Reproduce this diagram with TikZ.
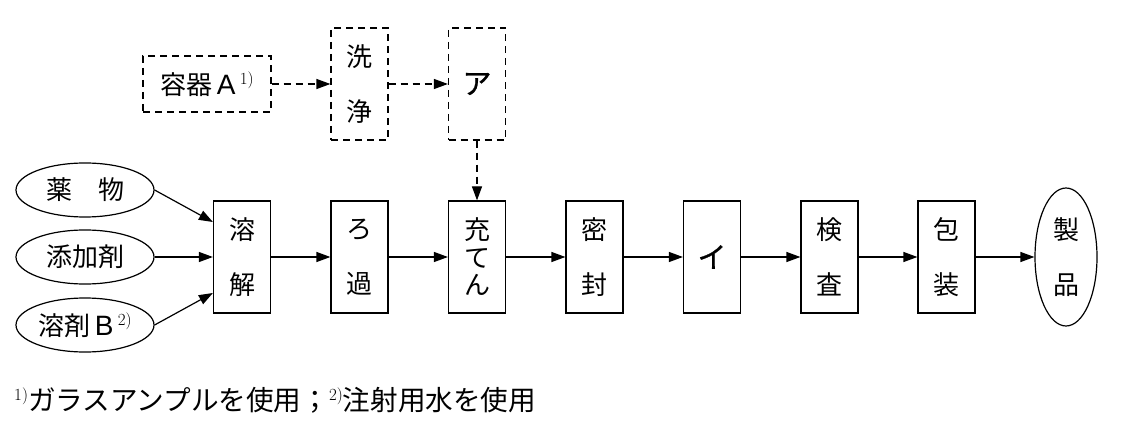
\documentclass[tikz,border=0pt]{standalone}
\usepackage{fontspec}
\newfontfamily\cjk{Noto Sans CJK JP}
\newfontfamily\cjkm[FakeBold=0.8]{Noto Sans CJK JP}
\newfontfamily\lsans{Liberation Sans}
\usetikzlibrary{arrows.meta,shapes.geometric,calc}
\newcommand\supn[1]{\raisebox{10pt}{\normalfont\fontsize{17}{17}\selectfont #1}}
\newcommand\latn[1]{{\lsans\fontsize{28}{30}\selectfont #1}}
\tikzset{
  every node/.style={inner sep=0pt},
  stepbox/.style={draw, line width=1.2pt, minimum width=57pt, minimum height=112pt,
    align=center, font=\cjk\fontsize{26}{55}\selectfont},
  dbox/.style={stepbox, dash pattern=on 7pt off 5pt},
  oval/.style={draw, ellipse, line width=1.2pt, minimum width=138pt, minimum height=54pt,
    font=\cjk\fontsize{26}{30}\selectfont},
  arr/.style={line width=1.2pt, -{Triangle[length=14pt,width=10pt]}},
  darr/.style={arr, dash pattern=on 7pt off 5pt},
  kana/.style={font=\cjkm\fontsize{29}{30}\selectfont},
}
\begin{document}
\begin{tikzpicture}[x=1pt,y=-1pt]
\useasboundingbox (0,0) rectangle (1126,430);
% upper dashed row
\node[dbox, minimum width=128pt, minimum height=56pt] (yoki) at (207,84) {容器\,\latn{A}\,\supn{1)}};
\node[dbox] (sen) at (359.5,84) {洗\\浄};
\node[dbox, kana] (a) at (477,84) {ア};
% main row
\node[stepbox] (yokai) at (242,257) {溶\\解};
\node[stepbox] (roka) at (359.5,257) {ろ\\過};
\node[stepbox, font=\cjk\fontsize{26}{27.5}\selectfont] (juten) at (477,257) {充\\て\\ん};
\node[stepbox] (mippu) at (594.5,257) {密\\封};
\node[stepbox, kana] (i) at (712,257) {イ};
\node[stepbox] (kensa) at (829.5,257) {検\\査};
\node[stepbox] (hoso) at (946.5,257) {包\\装};
\node[oval, minimum width=62pt, minimum height=138pt, align=center,
  font=\cjk\fontsize{26}{55}\selectfont] (seihin) at (1066,257) {製\\品};
% inputs
\node[oval] (yaku) at (85,190) {薬　物};
\node[oval] (tenka) at (85,257) {添加剤};
\node[oval] (yozai) at (85,325) {溶剤\,\latn{B}\,\supn{2)}};
% connectors
\draw[darr] (yoki) -- (sen);
\draw[darr] (sen) -- (a);
\draw[darr] (a) -- (juten);
\draw[arr] (yaku.east) -- ([yshift=35pt]yokai.west);
\draw[arr] (tenka) -- (yokai);
\draw[arr] (yozai.east) -- ([yshift=-36pt]yokai.west);
\draw[arr] (yokai) -- (roka);
\draw[arr] (roka) -- (juten);
\draw[arr] (juten) -- (mippu);
\draw[arr] (mippu) -- (i);
\draw[arr] (i) -- (kensa);
\draw[arr] (kensa) -- (hoso);
\draw[arr] (hoso) -- (seihin);
% footnote
\node[anchor=west, font=\cjk\fontsize{27.6}{30}\selectfont] (note) at (14,400)
  {\supn{1)}ガラスアンプルを使用；\supn{2)}注射用水を使用};
\end{tikzpicture}
\end{document}
